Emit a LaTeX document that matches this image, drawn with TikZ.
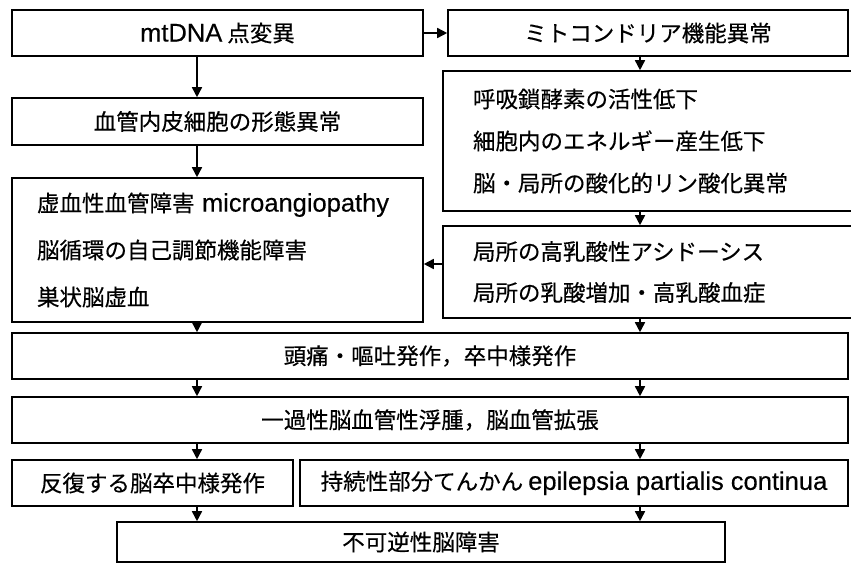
\documentclass[tikz,border=0pt]{standalone}
\usepackage{fontspec}
\setmainfont[FakeBold=0.35]{Noto Sans CJK JP}
\newfontfamily\latinfont[FakeBold=0.35]{Liberation Sans}
\newcommand\lat[1]{{\latinfont\fontsize{25.5pt}{\baselineskip}\selectfont #1}}
\usetikzlibrary{arrows.meta}
\tikzset{
  box/.style={draw, line width=1.6pt, rectangle, inner sep=0pt, font=\fontsize{22.5}{27}\selectfont},
  lbox/.style={box, align=left, inner xsep=25pt},
  arr/.style={line width=1.6pt, -{Triangle[length=10pt,width=10pt]}}
}
\begin{document}
\begin{tikzpicture}[x=1pt,y=-1pt]
\useasboundingbox (0,0) rectangle (851,566);
\coordinate (cl) at (197,0);
\coordinate (cr) at (640,0);
\coordinate (ah) at (0,264);
% left column
\node[box, minimum width=411pt, minimum height=46pt] (b1) at (217.5,33) {\lat{mtDNA} 点変異};
\node[box, minimum width=411pt, minimum height=47pt] (b2) at (217.5,121.5) {血管内皮細胞の形態異常};
\node[lbox, text width=361pt, minimum height=144pt, font=\fontsize{22.5}{47}\selectfont] (b3) at (217.5,250)
  {虚血性血管障害 \lat{microangiopathy}\\脳循環の自己調節機能障害\\巣状脳虚血};
% right column
\node[box, minimum width=400pt, minimum height=46pt] (m1) at (648,33) {ミトコンドリア機能異常};
\node[lbox, text width=350pt, minimum height=140pt, inner xsep=30pt, font=\fontsize{22.5}{42}\selectfont] (m2) at (648,141)
  {呼吸鎖酵素の活性低下\\細胞内のエネルギー産生低下\\脳・局所の酸化的リン酸化異常};
\node[lbox, text width=350pt, minimum height=92pt, inner xsep=30pt, font=\fontsize{22.5}{41}\selectfont] (m3) at (648,272)
  {局所の高乳酸性アシドーシス\\局所の乳酸増加・高乳酸血症};
% full width
\node[box, minimum width=836pt, minimum height=46pt] (h) at (430,356) {頭痛・嘔吐発作，卒中様発作};
\node[box, minimum width=836pt, minimum height=46pt] (t) at (430,420) {一過性脳血管性浮腫，脳血管拡張};
\node[box, minimum width=281pt, minimum height=46pt] (r) at (152.5,483) {反復する脳卒中様発作};
\node[box, minimum width=548pt, minimum height=46pt] (e) at (574,483) {持続性部分てんかん \lat{epilepsia partialis continua}};
\node[box, minimum width=608pt, minimum height=40pt] (f) at (421,542) {不可逆性脳障害};
% connectors
\draw[arr] (b1.east) -- (m1.west);
\draw[arr] (b1.south -| cl) -- (b2.north -| cl);
\draw[arr] (b2.south -| cl) -- (b3.north -| cl);
\draw[arr] (m1.south -| cr) -- (m2.north -| cr);
\draw[arr] (m2.south -| cr) -- (m3.north -| cr);
\draw[arr] (m3.west |- ah) -- (b3.east |- ah);
\draw[arr] (b3.south -| cl) -- (h.north -| cl);
\draw[arr] (m3.south -| cr) -- (h.north -| cr);
\draw[arr] (h.south -| cl) -- (t.north -| cl);
\draw[arr] (h.south -| cr) -- (t.north -| cr);
\draw[arr] (t.south -| cl) -- (r.north -| cl);
\draw[arr] (t.south -| cr) -- (e.north -| cr);
\draw[arr] (r.south -| cl) -- (f.north -| cl);
\draw[arr] (e.south -| cr) -- (f.north -| cr);
\end{tikzpicture}
\end{document}
